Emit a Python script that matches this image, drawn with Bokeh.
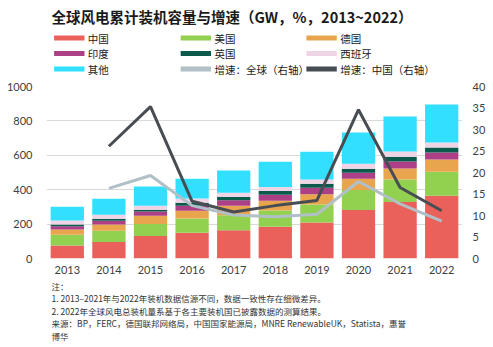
from bokeh.plotting import figure
from bokeh.models import Range1d, LinearAxis, SingleIntervalTicker, ColumnDataSource
from bokeh.layouts import column
from bokeh.core.properties import value
from bokeh.embed import file_html
from bokeh.resources import INLINE

years = ["2013", "2014", "2015", "2016", "2017", "2018", "2019", "2020", "2021", "2022"]
china = [76, 96, 131, 149, 164, 184, 210, 282, 329, 365]
usa = [62, 65, 70, 83, 87, 95, 104, 116, 130, 139]
germany = [30, 36, 47, 46, 55, 57, 59, 65, 64, 71]
india = [20, 22, 25, 29, 33, 35, 38, 36, 41, 41]
uk = [10, 12, 11, 17, 19, 22, 23, 23, 27, 29]
spain = [23, 23, 23, 25, 24, 23, 25, 29, 31, 29]
other = [80, 94, 111, 115, 129, 147, 162, 181, 203, 221]

growth_years = ["2014", "2015", "2016", "2017", "2018", "2019", "2020", "2021", "2022"]
growth_global = [16.3, 19.3, 12.3, 10.1, 9.7, 10.3, 17.9, 12.7, 8.7]
growth_china = [26.1, 35.3, 13.3, 10.8, 12.3, 13.5, 34.6, 16.5, 11.1]

series = ["中国", "美国", "德国", "印度", "英国", "西班牙", "其他"]
colors = ["#EA605A", "#92D050", "#E8A54E", "#AC3F86", "#0B5A4C", "#EFD4E6", "#33DFFF"]
line_names = ["增速：全球（右轴）", "增速：中国（右轴）"]
line_colors = ["#B1BFC6", "#474D52"]

title_text = "全球风电累计装机容量与增速（GW，%，2013~2022）"
notes = [
    "注：",
    "1. 2013–2021年与2022年装机数据信源不同，数据一致性存在细微差异。",
    "2. 2022年全球风电总装机量系基于各主要装机国已披露数据的测算结果。",
    "来源：BP，FERC，德国联邦网络局，中国国家能源局，MNRE RenewableUK，Statista，惠誉",
    "博华",
]

CJK = value("Noto Sans CJK SC")
W = 493

# ---------- header: title + legend ----------
top = figure(width=W, height=80, x_range=Range1d(0, W), y_range=Range1d(80, 0),
             output_backend="svg", toolbar_location=None, min_border=0)
top.axis.visible = False
top.grid.visible = False
top.outline_line_color = None

top.text(x=[6], y=[16], text=[title_text], text_font=CJK, text_font_size="14.5px",
         text_font_style="bold", text_color="#1a1a1a", text_baseline="middle")

leg_labels = series + line_names
leg_colors = colors + line_colors
col_x = [9, 159, 308]
row_y = [37.5, 53, 68.5]
sx0, sx1, tx, ty = [], [], [], []
for i in range(len(leg_labels)):
    c, r = i % 3, i // 3
    sx0.append(col_x[c]); sx1.append(col_x[c] + 36)
    tx.append(col_x[c] + 40); ty.append(row_y[r])
sy = [ty[i] for i in range(len(leg_labels))]
top.segment(x0=sx0, y0=sy, x1=sx1, y1=sy, line_color=leg_colors, line_width=5)
top.text(x=tx, y=ty, text=leg_labels, text_font=CJK, text_font_size="10.5px",
         text_color="#1a1a1a", text_baseline="middle")

# ---------- main chart ----------
p = figure(width=W, height=200, x_range=years, y_range=Range1d(0, 1000),
           output_backend="svg", toolbar_location=None,
           min_border_left=46, min_border_right=31, min_border_top=6, min_border_bottom=22)
p.outline_line_color = None
p.xgrid.grid_line_color = None
p.ygrid.grid_line_color = "#D9D9D9"
p.ygrid.grid_line_width = 1

src = ColumnDataSource(dict(years=years, 中国=china, 美国=usa, 德国=germany, 印度=india,
                            英国=uk, 西班牙=spain, 其他=other))
p.vbar_stack(series, x="years", width=0.8, color=colors, line_color=None, source=src)

p.extra_y_ranges = {"right": Range1d(0, 40)}
p.line(x=growth_years, y=growth_global, y_range_name="right", line_color=line_colors[0], line_width=3)
p.line(x=growth_years, y=growth_china, y_range_name="right", line_color=line_colors[1], line_width=3)

p.yaxis.ticker = SingleIntervalTicker(interval=200)
raxis = LinearAxis(y_range_name="right", ticker=SingleIntervalTicker(interval=5))
p.add_layout(raxis, "right")

for ax in p.xaxis + p.yaxis:
    ax.axis_line_color = None
    ax.major_tick_line_color = None
    ax.minor_tick_line_color = None
    ax.major_tick_out = 0
    ax.major_tick_in = 0
    ax.major_label_text_font = "Lato"
    ax.major_label_text_font_size = "11px"
    ax.major_label_text_color = "#404040"
p.xaxis.major_label_standoff = 7
p.yaxis[0].major_label_standoff = 10
raxis.major_label_standoff = 6

# ---------- footer notes ----------
bot = figure(width=W, height=67, x_range=Range1d(0, W), y_range=Range1d(347, 280),
             output_backend="svg", toolbar_location=None, min_border=0)
bot.axis.visible = False
bot.grid.visible = False
bot.outline_line_color = None
bot.text(x=[6] * len(notes), y=[285, 297.5, 310, 322.5, 335], text=notes, text_font=CJK,
         text_font_size="8.5px", text_color="#333333", text_baseline="middle")

layout = column(top, p, bot, spacing=0)
open("out.html", "w").write(file_html(layout, INLINE))
